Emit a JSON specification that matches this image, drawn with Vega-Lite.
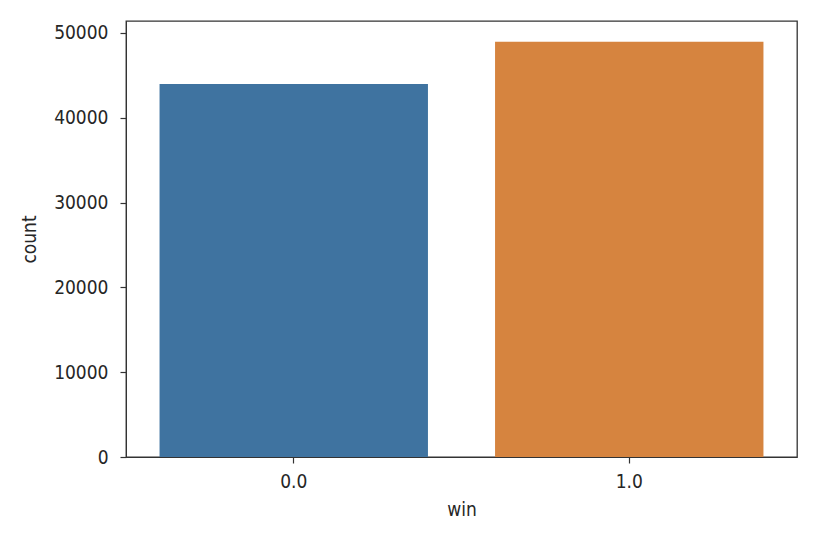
{
  "$schema": "https://vega.github.io/schema/vega-lite/v6.json",
  "width": 671,
  "height": 436,
  "autosize": {"type": "none"},
  "padding": {"left": 126, "top": 21, "right": 29, "bottom": 85},
  "background": "white",
  "config": {
    "font": "DejaVu Sans Condensed",
    "view": {"stroke": "#333333", "strokeWidth": 1.3},
    "axis": {
      "labelFont": "DejaVu Sans Condensed",
      "titleFont": "DejaVu Sans Condensed",
      "labelFontSize": 19,
      "titleFontSize": 19,
      "labelColor": "#262626",
      "titleColor": "#262626",
      "titleFontWeight": "normal",
      "domainColor": "#333333",
      "tickColor": "#333333",
      "tickSize": 6,
      "tickWidth": 1.2,
      "grid": false
    }
  },
  "data": {
    "values": [
      {"win": "0.0", "count": 43980},
      {"win": "1.0", "count": 48950}
    ]
  },
  "mark": {"type": "bar"},
  "encoding": {
    "x": {
      "field": "win",
      "type": "nominal",
      "title": "win",
      "scale": {"paddingInner": 0.2, "paddingOuter": 0.1},
      "axis": {"labelAngle": 0, "labelPadding": 9, "titlePadding": 9}
    },
    "y": {
      "field": "count",
      "type": "quantitative",
      "title": "count",
      "scale": {"domain": [0, 51400], "nice": false},
      "axis": {"values": [0, 10000, 20000, 30000, 40000, 50000], "format": "d", "labelPadding": 12, "titlePadding": 14}
    },
    "color": {
      "field": "win",
      "type": "nominal",
      "scale": {"range": ["#3f73a0", "#d6843f"]},
      "legend": null
    }
  }
}
